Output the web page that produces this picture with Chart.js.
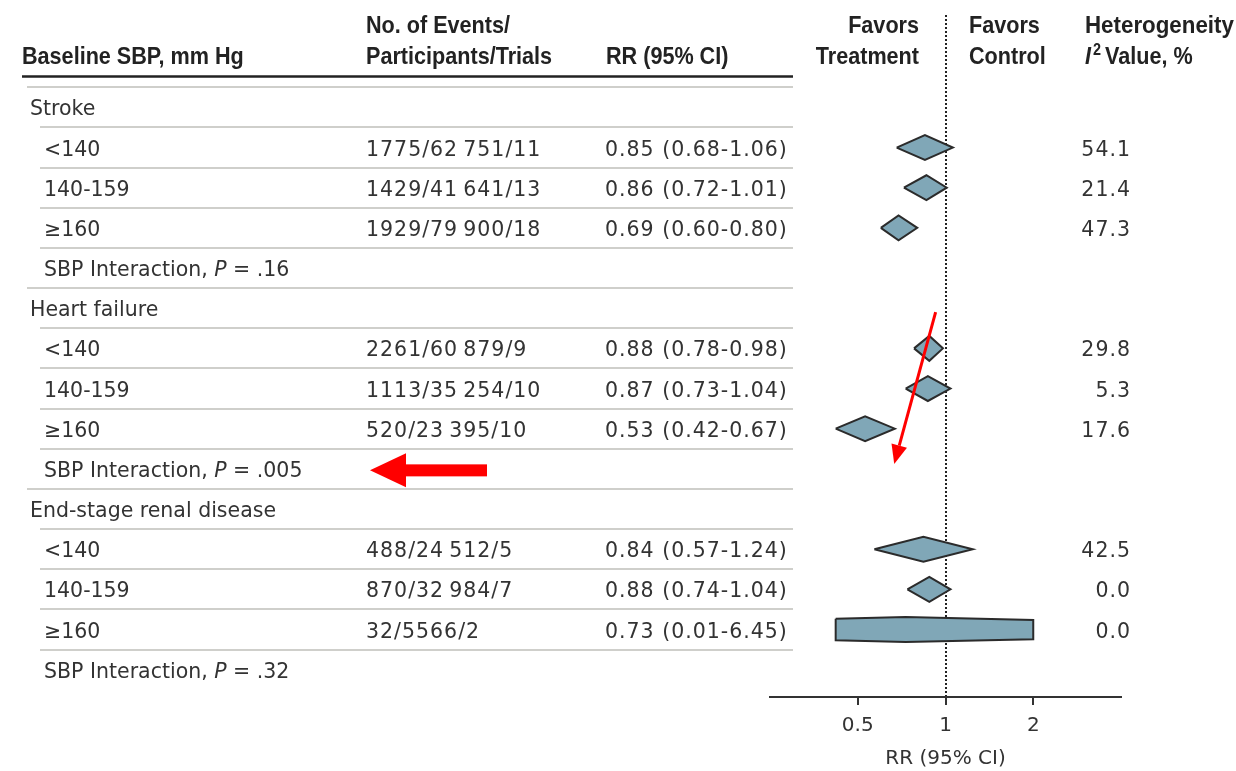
<!DOCTYPE html>
<html>
<head>
<meta charset="utf-8">
<script src="https://cdn.jsdelivr.net/npm/chart.js@4.4.0/dist/chart.umd.min.js"></script>
<style>
  html, body { margin: 0; padding: 0; background: #fff; }
</style>
</head>
<body>
<canvas id="forest" width="1236" height="771"></canvas>
<script>
/* Forest plot: RR by baseline SBP */

var outcomes = ['Stroke', 'Heart failure', 'End-stage renal disease'];
var sbpGroups = ['<140', '140-159', '≥160'];
var pInteraction = ['.16', '.005', '.32'];

// one entry per outcome x SBP group
var eventsText = [
    '1775/62\u2009751/11', '1429/41\u2009641/13', '1929/79\u2009900/18',
    '2261/60\u2009879/9', '1113/35\u2009254/10', '520/23\u2009395/10',
    '488/24\u2009512/5', '870/32\u2009984/7', '32/5566/2'
];
var rrValues = [0.85, 0.86, 0.69, 0.88, 0.87, 0.53, 0.84, 0.88, 0.73];
var ciLow = [0.68, 0.72, 0.60, 0.78, 0.73, 0.42, 0.57, 0.74, 0.01];
var ciHigh = [1.06, 1.01, 0.80, 0.98, 1.04, 0.67, 1.24, 1.04, 6.45];
var i2Values = [54.1, 21.4, 47.3, 29.8, 5.3, 17.6, 42.5, 0.0, 0.0];

var xTicks = [0.5, 1, 2];

// styles
var HALF = 0.31;              // half height of a diamond, in rows
var CLIP_END = 0.24;          // min half height where a diamond is cut
var X_CLIP = [0.42, 2];       // wide intervals are cut here
var bodyFont = '20.5px "DejaVu Sans"';
var headFont = 'bold 24px "Liberation Sans"';
var HEAD_SX = 0.9;

// row index of group j of outcome k
function rowOf(k, j) { return 5 * k + 1 + j; }

// diamond polygon (lo - rr - hi), cut at X_CLIP
function diamond(lo, mid, hi, row) {
    var L = Math.log(lo), M = Math.log(mid), H = Math.log(hi);
    var cl = Math.log(X_CLIP[0]), ch = Math.log(X_CLIP[1]);
    var a = Math.max(L, cl), b = Math.min(H, ch);
    var half = function (t) {
        var h = t <= M ? HALF * (t - L) / (M - L) : HALF * (H - t) / (H - M);
        if ((t === cl && L < cl) || (t === ch && H > ch)) h = Math.max(h, CLIP_END);
        return h;
    };
    var pts = [];
    pts.push({x: Math.exp(a), y: row - half(a)});
    pts.push({x: mid, y: row - HALF});
    pts.push({x: Math.exp(b), y: row - half(b)});
    pts.push({x: Math.exp(b), y: row + half(b)});
    pts.push({x: mid, y: row + HALF});
    pts.push({x: Math.exp(a), y: row + half(a)});
    pts.push({x: Math.exp(a), y: row - half(a)});
    return pts;
}

var datasets = [];
outcomes.forEach(function (name, k) {
    sbpGroups.forEach(function (g, j) {
        var i = 3 * k + j;
        datasets.push({
            label: name + ' ' + g,
            data: diamond(ciLow[i], rrValues[i], ciHigh[i], rowOf(k, j)),
            showLine: true,
            fill: 'shape',
            tension: 0,
            pointRadius: 0,
            borderColor: '#2b2b2b',
            borderWidth: 2,
            backgroundColor: '#80a7b7'
        });
    });
});

function drawText(ctx, str, x, y, font, align, sx, color, spacing) {
    ctx.save();
    ctx.font = font;
    ctx.fillStyle = color || '#333';
    ctx.textAlign = align || 'left';
    ctx.textBaseline = 'alphabetic';
    if (spacing) ctx.letterSpacing = spacing;
    ctx.translate(x, y);
    ctx.scale(sx || 1, 1);
    ctx.fillText(str, 0, 0);
    var w = ctx.measureText(str).width * (sx || 1);
    ctx.restore();
    return w;
}

var tablePlugin = {
    id: 'forestTable',
    afterDraw: function (chart) {
        var ctx = chart.ctx;
        var ys = chart.scales.y, xs = chart.scales.x;
        var rowY = function (r) { return ys.getPixelForValue(r); };

        // header
        var hc = '#222';
        drawText(ctx, 'Baseline SBP, mm Hg', 22, 64, headFont, 'left', HEAD_SX, hc);
        drawText(ctx, 'No. of Events/', 366, 33, headFont, 'left', HEAD_SX, hc);
        drawText(ctx, 'Participants/Trials', 366, 64, headFont, 'left', HEAD_SX, hc);
        drawText(ctx, 'RR (95% CI)', 606, 64, headFont, 'left', HEAD_SX, hc);
        drawText(ctx, 'Favors', 919, 33, headFont, 'right', HEAD_SX, hc);
        drawText(ctx, 'Treatment', 919, 64, headFont, 'right', HEAD_SX, hc);
        drawText(ctx, 'Favors', 969, 33, headFont, 'left', HEAD_SX, hc);
        drawText(ctx, 'Control', 969, 64, headFont, 'left', HEAD_SX, hc);
        drawText(ctx, 'Heterogeneity', 1085, 33, headFont, 'left', 0.93, hc);
        var hx = 1085;
        hx += drawText(ctx, 'I', hx, 64, 'italic ' + headFont, 'left', HEAD_SX, hc) + 2;
        hx += drawText(ctx, '2', hx, 55, 'bold 16px "Liberation Sans"', 'left', HEAD_SX, hc) + 4;
        drawText(ctx, 'Value, %', hx, 64, headFont, 'left', HEAD_SX, hc);

        // rules
        ctx.save();
        ctx.strokeStyle = '#222';
        ctx.lineWidth = 2.5;
        ctx.beginPath();
        ctx.moveTo(22, 76.5);
        ctx.lineTo(793, 76.5);
        ctx.stroke();
        ctx.strokeStyle = '#cfcfcb';
        ctx.lineWidth = 2;
        for (var r = -1; r < 14; r++) {
            var ry = Math.round(rowY(r + 0.5));
            var x0 = (r === -1 || r % 5 === 4) ? 27 : 40;
            ctx.beginPath();
            ctx.moveTo(x0, ry);
            ctx.lineTo(793, ry);
            ctx.stroke();
        }
        ctx.restore();

        // body rows
        outcomes.forEach(function (name, k) {
            drawText(ctx, name, 30, rowY(5 * k) + 8, bodyFont);
            sbpGroups.forEach(function (g, j) {
                var i = 3 * k + j, py = rowY(rowOf(k, j)) + 8;
                drawText(ctx, g, 44, py, bodyFont);
                drawText(ctx, eventsText[i], 366, py, bodyFont, 'left', 1, '#333', '1px');
                var rrText = rrValues[i].toFixed(2) + ' (' + ciLow[i].toFixed(2) + '-' + ciHigh[i].toFixed(2) + ')';
                drawText(ctx, rrText, 605, py, bodyFont, 'left', 1, '#333', '1px');
                drawText(ctx, i2Values[i].toFixed(1), 1131, py, bodyFont, 'right', 1, '#333', '1px');
            });
            var iy = rowY(5 * k + 4) + 8, ix = 44;
            ix += drawText(ctx, 'SBP Interaction, ', ix, iy, bodyFont);
            ix += drawText(ctx, 'P', ix, iy, 'italic ' + bodyFont);
            drawText(ctx, ' = ' + pInteraction[k], ix, iy, bodyFont);
        });

        // red annotations
        ctx.save();
        ctx.fillStyle = '#ff0000';
        ctx.strokeStyle = '#ff0000';
        var ay = rowY(9) + 1.5;
        ctx.fillRect(404, ay - 6, 83, 12);
        ctx.beginPath();
        ctx.moveTo(370, ay);
        ctx.lineTo(406, ay - 17);
        ctx.lineTo(406, ay + 17);
        ctx.closePath();
        ctx.fill();

        var sx = xs.getPixelForValue(0.925), sy = rowY(5.1);
        var ex = xs.getPixelForValue(0.667), ey = rowY(8.88);
        var ang = Math.atan2(ey - sy, ex - sx);
        var bx = ex - 19 * Math.cos(ang), by = ey - 19 * Math.sin(ang);
        ctx.lineWidth = 3;
        ctx.beginPath();
        ctx.moveTo(sx, sy);
        ctx.lineTo(bx, by);
        ctx.stroke();
        ctx.beginPath();
        ctx.moveTo(ex, ey);
        ctx.lineTo(bx + 8 * Math.sin(ang), by - 8 * Math.cos(ang));
        ctx.lineTo(bx - 8 * Math.sin(ang), by + 8 * Math.cos(ang));
        ctx.closePath();
        ctx.fill();
        ctx.restore();
    }
};

var ctx = document.getElementById('forest');
var forest = new Chart(ctx, {
    type: 'scatter',
    data: { datasets: datasets },
    options: {
        responsive: false,
        animation: false,
        devicePixelRatio: 1,
        layout: { padding: { left: 770, right: 115, top: 15, bottom: 0 } },
        plugins: { legend: { display: false }, tooltip: { enabled: false } },
        scales: {
            x: {
                type: 'logarithmic',
                min: 0.25,
                max: 4,
                afterBuildTicks: function (scale) {
                    scale.ticks = xTicks.map(function (v) { return { value: v }; });
                },
                afterFit: function (scale) { scale.height = 74; },
                ticks: {
                    autoSkip: false,
                    maxRotation: 0,
                    padding: 9,
                    color: '#333',
                    font: { family: 'DejaVu Sans', size: 20 },
                    callback: function (v) { return String(v); }
                },
                grid: {
                    color: function (c) { return c.tick && c.tick.value === 1 ? '#222' : 'rgba(0,0,0,0)'; },
                    lineWidth: 2,
                    tickColor: '#333',
                    tickLength: 8,
                    tickWidth: 2
                },
                border: { color: '#333', width: 2, dash: [2, 2] },
                title: {
                    display: true,
                    text: 'RR (95% CI)',
                    color: '#333',
                    font: { family: 'DejaVu Sans', size: 20 },
                    padding: { top: 0, bottom: 0 }
                }
            },
            y: {
                display: false,
                reverse: true,
                min: -2.3,
                max: 14.68
            }
        }
    },
    plugins: [tablePlugin]
});
</script>
</body>
</html>
